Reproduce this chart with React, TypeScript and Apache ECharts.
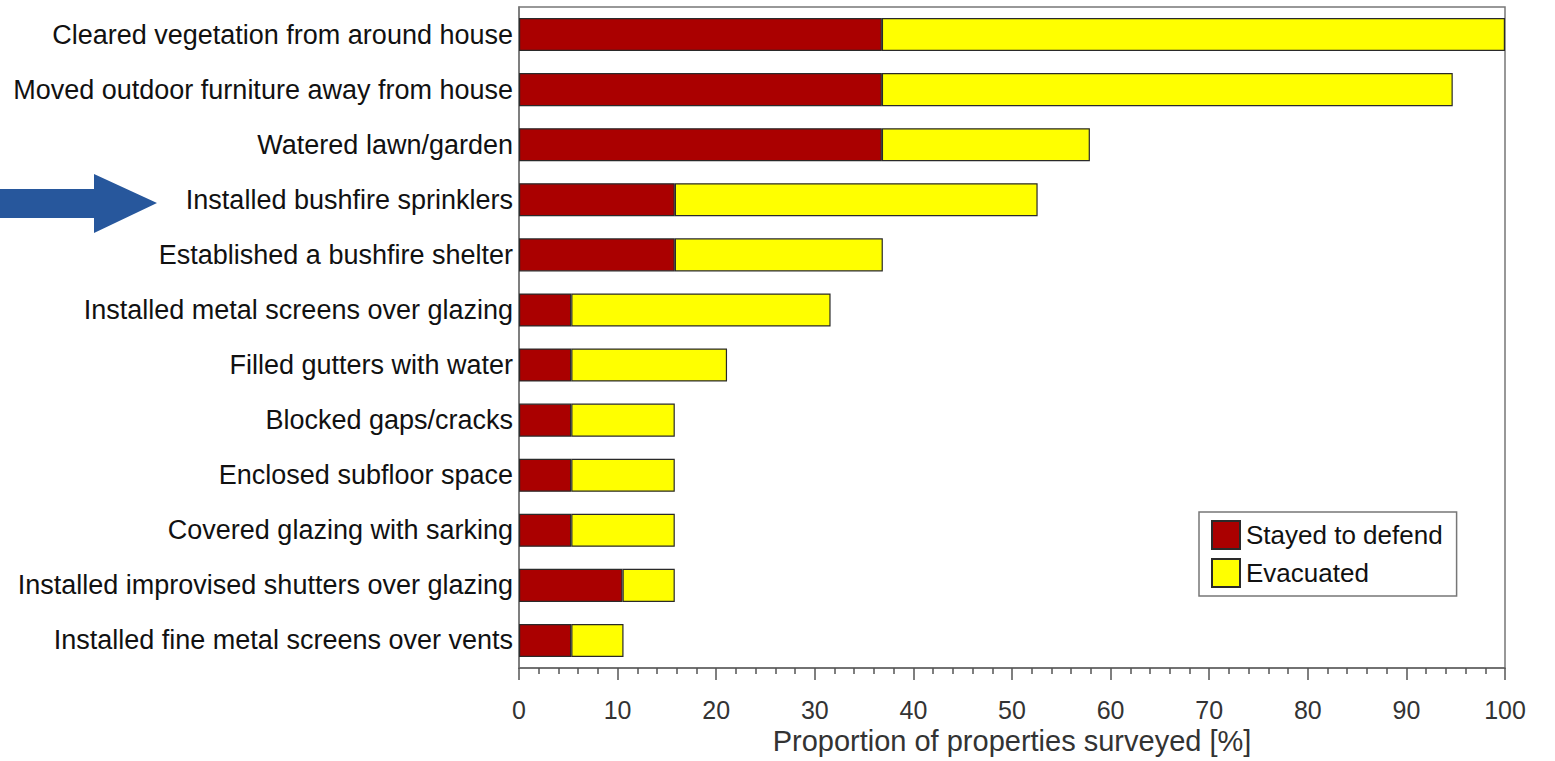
import React, { useEffect, useRef } from "react";
import * as echarts from "echarts";

const categories = [
  "Cleared vegetation from around house",
  "Moved outdoor furniture away from house",
  "Watered lawn/garden",
  "Installed bushfire sprinklers",
  "Established a bushfire shelter",
  "Installed metal screens over glazing",
  "Filled gutters with water",
  "Blocked gaps/cracks",
  "Enclosed subfloor space",
  "Covered glazing with sarking",
  "Installed improvised shutters over glazing",
  "Installed fine metal screens over vents",
];
const stayedToDefend = [36.8, 36.8, 36.8, 15.8, 15.8, 5.3, 5.3, 5.3, 5.3, 5.3, 10.5, 5.3];
const evacuated = [63.2, 57.9, 21.1, 36.8, 21.1, 26.3, 15.8, 10.5, 10.5, 10.5, 5.3, 5.3];
const xTicks = [0, 10, 20, 30, 40, 50, 60, 70, 80, 90, 100];

const FONT = "'Liberation Sans', Arial, sans-serif";

export default function App() {
  const ref = useRef<HTMLDivElement>(null);
  useEffect(() => {
    if (!ref.current) return;
    const chart = echarts.init(ref.current, undefined, { renderer: "svg" });
    chart.setOption({
      animation: false,
      backgroundColor: "#ffffff",
      textStyle: { fontFamily: FONT },
      grid: {
        left: 519,
        right: 50,
        top: 7,
        bottom: 93,
        show: true,
        borderColor: "#777",
        borderWidth: 1.5,
        containLabel: false,
      },
      legend: {
        orient: "vertical",
        left: 1199,
        top: 512,
        itemWidth: 28,
        itemHeight: 28,
        itemGap: 8,
        padding: [8, 14, 8, 12],
        borderColor: "#777",
        borderWidth: 1.5,
        icon: "rect",
        textStyle: { fontSize: 26, color: "#111", fontFamily: FONT, padding: [0, 0, 0, 1] },
        data: ["Stayed to defend", "Evacuated"],
      },
      xAxis: {
        type: "value",
        min: xTicks[0],
        max: xTicks[xTicks.length - 1],
        interval: 10,
        name: "Proportion of properties surveyed [%]",
        nameLocation: "middle",
        nameGap: 52,
        nameTextStyle: { fontSize: 29, color: "#333", fontFamily: FONT },
        axisLine: { show: true, lineStyle: { color: "#666", width: 1.5 } },
        axisTick: { show: true, inside: false, length: 12, lineStyle: { color: "#555", width: 1.5 } },
        minorTick: { show: true, splitNumber: 5, length: 6, lineStyle: { color: "#555", width: 1.5 } },
        axisLabel: { fontSize: 25, color: "#333", margin: 29, fontFamily: FONT },
        splitLine: { show: false },
      },
      yAxis: {
        type: "category",
        inverse: true,
        data: categories,
        axisLine: { show: true, lineStyle: { color: "#777", width: 1.5 } },
        axisTick: { show: false },
        axisLabel: { fontSize: 27, color: "#111", margin: 6, fontFamily: FONT },
        splitLine: { show: false },
      },
      series: [
        {
          name: "Stayed to defend",
          type: "bar",
          stack: "total",
          data: stayedToDefend,
          barCategoryGap: "40%",
          itemStyle: { color: "#AA0000", borderColor: "#2a2a2a", borderWidth: 1.2 },
        },
        {
          name: "Evacuated",
          type: "bar",
          stack: "total",
          data: evacuated,
          barCategoryGap: "40%",
          itemStyle: { color: "#FFFF00", borderColor: "#2a2a2a", borderWidth: 1.2 },
        },
      ],
      graphic: [
        {
          type: "polygon",
          shape: {
            points: [
              [0, 189],
              [94, 189],
              [94, 174],
              [157, 203],
              [94, 233],
              [94, 218],
              [0, 218],
            ],
          },
          style: { fill: "#27579C" },
        },
      ],
    });
    return () => chart.dispose();
  }, []);
  return (
    <div
      ref={ref}
      style={{ position: "absolute", left: 0, top: 0, width: 1555, height: 761 }}
    />
  );
}
